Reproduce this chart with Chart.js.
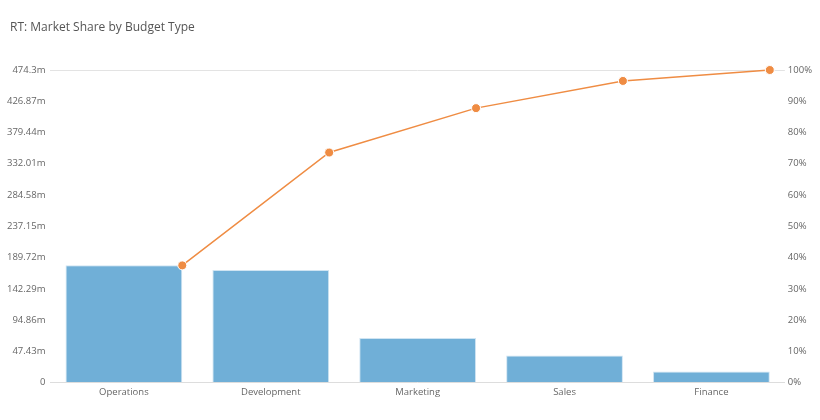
<!DOCTYPE html>
<html>
<head>
<meta charset="utf-8">
<script src="https://cdn.jsdelivr.net/npm/chart.js@4"></script>
<style>
  html, body { margin: 0; padding: 0; background: #fff; }
  #wrap { width: 820px; height: 420px; }
</style>
</head>
<body>
<div id="wrap"><canvas id="paretoChart"></canvas></div>
<script>
// budget types and spend (millions)
const categories = ["Operations", "Development", "Marketing", "Sales", "Finance"];
const spend = [178, 171, 67.5, 41, 16.8];
const cumulativePct = [37.5, 73.6, 87.8, 96.5, 100];
const rightTicks = [0, 10, 20, 30, 40, 50, 60, 70, 80, 90, 100];
const chartTitle = "RT: Market Share by Budget Type";

const total = 474.3;
const leftTicks = rightTicks.map(p => total * p / 100);

const fontFamily = "'Open Sans', sans-serif";
const barWidthPct = 0.795;

function fmtMillions(v) {
    if (v === 0) return "0";
    return parseFloat(v.toFixed(2)) + "m";
}

// title sits a bit indented from the left edge, so draw it ourselves
const titlePlugin = {
    id: "leftTitle",
    afterDraw(chart) {
        const c = chart.ctx;
        c.save();
        c.font = "12px " + fontFamily;
        c.fillStyle = "#555555";
        c.textBaseline = "middle";
        c.textAlign = "left";
        c.fillText(chartTitle, 10, 28);
        c.restore();
    }
};

const ctx = document.getElementById("paretoChart").getContext("2d");
const paretoChart = new Chart(ctx, {
    data: {
        labels: categories,
        datasets: [
            {
                type: "line",
                label: "Cumulative %",
                data: cumulativePct.map((p, i) => ({ x: i + barWidthPct / 2, y: p })),
                xAxisID: "x2",
                yAxisID: "y1",
                borderColor: "#ef8c43",
                borderWidth: 1.5,
                backgroundColor: "#ef8c43",
                pointBackgroundColor: "#ef8c43",
                pointBorderColor: "#ffffff",
                pointBorderWidth: 1,
                pointRadius: 4.5,
                tension: 0,
                clip: false,
                order: 0
            },
            {
                type: "bar",
                label: "Spend",
                data: spend,
                xAxisID: "x",
                yAxisID: "y",
                backgroundColor: "#70afd7",
                borderColor: "#cfe4f2",
                borderWidth: 1,
                grouped: false,
                categoryPercentage: 1,
                barPercentage: barWidthPct,
                order: 1
            }
        ]
    },
    options: {
        responsive: true,
        maintainAspectRatio: false,
        animation: false,
        layout: { padding: { left: 2, right: 5, top: 70, bottom: 18 } },
        plugins: {
            legend: { display: false },
            tooltip: { enabled: false },
            title: { display: false }
        },
        scales: {
            x: {
                type: "category",
                offset: true,
                grid: { display: false, drawTicks: false },
                border: { display: true, color: "#dddddd" },
                ticks: { color: "#666666", font: { family: fontFamily, size: 9.5 }, padding: 4 }
            },
            x2: {
                type: "linear",
                display: false,
                min: -0.5,
                max: categories.length - 0.5
            },
            y: {
                position: "left",
                min: 0,
                max: total,
                afterBuildTicks: axis => { axis.ticks = leftTicks.map(v => ({ value: v })); },
                grid: {
                    drawTicks: false,
                    color: c => c.index === leftTicks.length - 1 ? "#e3e3e3" : "rgba(0,0,0,0)"
                },
                border: { display: false },
                ticks: {
                    color: "#666666",
                    font: { family: fontFamily, size: 9.5 },
                    padding: 5,
                    callback: v => fmtMillions(v)
                }
            },
            y1: {
                position: "right",
                min: 0,
                max: 100,
                afterBuildTicks: axis => { axis.ticks = rightTicks.map(v => ({ value: v })); },
                grid: { display: false, drawTicks: false },
                border: { display: false },
                ticks: {
                    color: "#666666",
                    font: { family: fontFamily, size: 9.5 },
                    padding: 3,
                    callback: v => v + "%"
                }
            }
        }
    },
    plugins: [titlePlugin]
});
</script>
</body>
</html>
